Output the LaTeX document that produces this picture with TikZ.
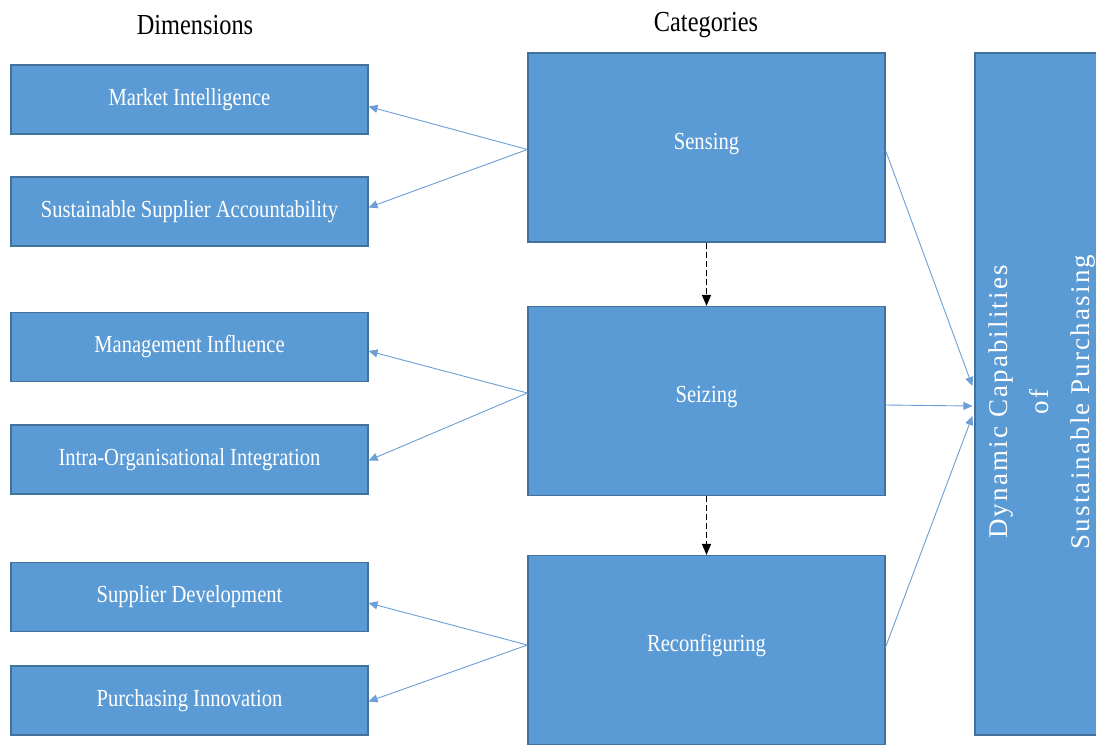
\documentclass[tikz,border=0pt]{standalone}
\usepackage{fontspec}
\setmainfont{Liberation Serif}[FakeStretch=0.84]
\newfontfamily\spacedfont{Liberation Serif}[LetterSpace=8]
\usetikzlibrary{arrows.meta,calc}
\definecolor{boxfill}{HTML}{5B9BD5}
\definecolor{boxline}{HTML}{41719C}
\definecolor{arrowblue}{HTML}{6C9FD6}
\tikzset{
  dimbox/.style={draw=boxline, line width=1.2pt, fill=boxfill, minimum width=357pt, minimum height=69pt, text=white, font=\fontsize{24.5}{28}\selectfont, inner sep=0pt},
  catbox/.style={draw=boxline, line width=1.2pt, fill=boxfill, minimum width=357pt, minimum height=189pt, text=white, font=\fontsize{24.5}{28}\selectfont, inner sep=0pt, text height=17pt, text depth=14pt},
  header/.style={font=\fontsize{29}{32}\selectfont, text=black},
  bluearrow/.style={draw=arrowblue, line width=0.9pt, -{Triangle[length=9pt,width=8pt]}},
  dasharrow/.style={draw=black, line width=1.4pt, dashed, dash pattern=on 6pt off 3pt, -{Triangle[length=11pt,width=9pt]}}
}
\begin{document}
\begin{tikzpicture}[x=1pt,y=-1pt]
\useasboundingbox (0,0) rectangle (1096,745);
\fill[white] (0,0) rectangle (1096,745);
\node[header] (hdim) at (195,25) {Dimensions};
\node[header] (hcat) at (706,25) {Categories};
% dimension boxes
\node[dimbox] (mi)  at (189.5,99.5)  {Market Intelligence};
\node[dimbox] (ssa) at (189.5,211.5) {Sustainable Supplier Accountability};
\node[dimbox] (mgi) at (189.5,347)   {Management Influence};
\node[dimbox] (ioi) at (189.5,459.5) {Intra-Organisational Integration};
\node[dimbox] (sd)  at (189.5,597)   {Supplier Development};
\node[dimbox] (pi)  at (189.5,700.5) {Purchasing Innovation};
% category boxes
\node[catbox] (sen) at (706.5,147.5) {Sensing};
\node[catbox] (sei) at (706.5,401)   {Seizing};
\node[catbox] (rec) at (706.5,650)   {Reconfiguring};
% right box
\node[draw=boxline, line width=1.2pt, fill=boxfill, minimum width=128pt, minimum height=682pt, inner sep=0pt] (dc) at (1039,394) {};
\node[rotate=90, text=white, align=center, font=\spacedfont\fontsize{27}{41}\selectfont] (dct) at (1042,402) {Dynamic Capabilities\\of\\Sustainable Purchasing};
% arrows to dimensions
\coordinate (senw) at ($(sen.west)+(0,2)$);
\coordinate (seiw) at ($(sei.west)+(0,-8)$);
\coordinate (recw) at ($(rec.west)+(0,-5)$);
\draw[bluearrow] (senw) -- ($(mi.east)+(0,7)$);
\draw[bluearrow] (senw) -- ($(ssa.east)+(0,-4)$);
\draw[bluearrow] (seiw) -- ($(mgi.east)+(0,4)$);
\draw[bluearrow] (seiw) -- ($(ioi.east)+(0,1)$);
\draw[bluearrow] (recw) -- ($(sd.east)+(0,6)$);
\draw[bluearrow] (recw) -- ($(pi.east)+(0,1)$);
% dashed arrows
\draw[dasharrow] (sen.south) -- (sei.north);
\draw[dasharrow] (sei.south) -- (rec.north);
% arrows to right box
\draw[bluearrow] ($(sen.east)+(0,3)$) -- ($(dc.west)+(-2,-8)$);
\draw[bluearrow] ($(sei.east)+(0,4)$) -- ($(dc.west)+(-2,12)$);
\draw[bluearrow] ($(rec.east)+(0,-3)$) -- ($(dc.west)+(-2,22)$);
\end{tikzpicture}
\end{document}
